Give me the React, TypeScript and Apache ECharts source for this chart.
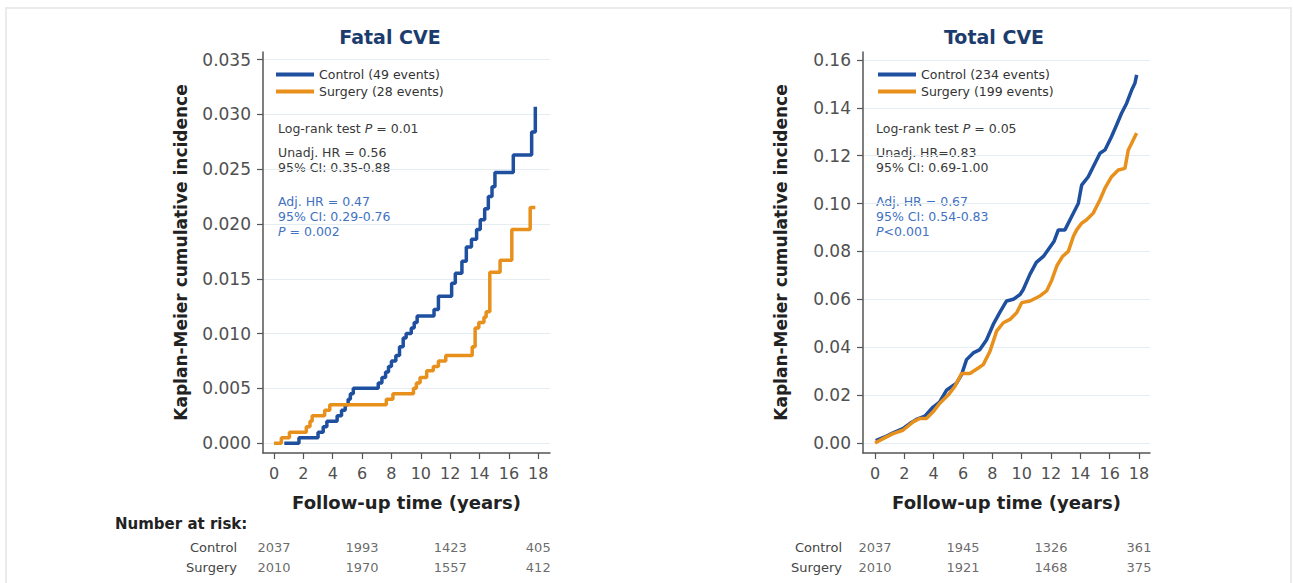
import React, { useEffect, useRef } from 'react';
import * as echarts from 'echarts';

const FONT = 'DejaVu Sans';
const BLUE = '#1f4f9f';
const ORANGE = '#e8901c';
const STAT_GRAY = '#3a3a3a';
const STAT_BLUE = '#4272c2';

const titles = ['Fatal CVE', 'Total CVE'];
const legendFatal = ['Control (49 events)', 'Surgery (28 events)'];
const legendTotal = ['Control (234 events)', 'Surgery (199 events)'];
const xAxisName = 'Follow-up time (years)';
const yAxisName = 'Kaplan-Meier cumulative incidence';
const riskTitle = 'Number at risk:';

const xTicks = [0, 2, 4, 6, 8, 10, 12, 14, 16, 18];
const fatalYTicks = [0, 0.005, 0.01, 0.015, 0.02, 0.025, 0.03, 0.035];
const totalYTicks = [0, 0.02, 0.04, 0.06, 0.08, 0.1, 0.12, 0.14, 0.16];

const fatalStatsGray = ['Log-rank test {i|P} = 0.01', 'Unadj. HR = 0.56', '95% CI: 0.35-0.88'];
const fatalStatsBlue = ['Adj. HR = 0.47', '95% CI: 0.29-0.76', '{i|P} = 0.002'];
const totalStatsGray = ['Log-rank test {i|P} = 0.05', 'Unadj. HR=0.83', '95% CI: 0.69-1.00'];
const totalStatsBlue = ['Adj. HR = 0.67', '95% CI: 0.54-0.83', '{i|P}<0.001'];

// Fatal CVE: [time (years), cumulative incidence after the step]
const fatalControl: [number, number][] = [
  [0.7, 0], [1.7, 0.0005], [3.0, 0.001], [3.35, 0.0015], [3.6, 0.002], [4.3, 0.0025],
  [4.6, 0.003], [4.85, 0.0035], [5.05, 0.004], [5.2, 0.0045], [5.4, 0.005], [7.1, 0.0055],
  [7.35, 0.006], [7.6, 0.0065], [7.8, 0.007], [8.0, 0.0075], [8.3, 0.008], [8.55, 0.0088],
  [8.8, 0.0096], [9.0, 0.01], [9.35, 0.0105], [9.55, 0.011], [9.75, 0.0116], [10.9, 0.0122],
  [11.2, 0.0134], [12.1, 0.0146], [12.35, 0.0155], [12.8, 0.0166], [13.1, 0.0179],
  [13.45, 0.0186], [13.8, 0.0195], [14.05, 0.0204], [14.35, 0.0214], [14.6, 0.0225],
  [14.85, 0.0234], [15.05, 0.0247], [16.3, 0.0263], [17.55, 0.0284], [17.8, 0.0307],
];
const fatalSurgery: [number, number][] = [
  [0, 0], [0.5, 0.0005], [1.05, 0.001], [2.2, 0.0015], [2.45, 0.002], [2.6, 0.0025],
  [3.45, 0.003], [3.8, 0.0035], [7.65, 0.004], [8.1, 0.0045], [9.5, 0.005], [9.7, 0.0055],
  [9.95, 0.006], [10.4, 0.0066], [10.85, 0.007], [11.2, 0.0075], [11.7, 0.008],
  [13.5, 0.0088], [13.7, 0.0105], [13.95, 0.011], [14.3, 0.0115], [14.45, 0.012],
  [14.7, 0.0156], [15.4, 0.0167], [16.2, 0.0195], [17.45, 0.0215], [17.8, 0.0215],
];

// Total CVE
const totalControl: [number, number][] = [
  [0.05, 0.001], [0.66, 0.0025], [1.23, 0.0042], [1.9, 0.006], [2.37, 0.0081], [2.82, 0.0098],
  [3.4, 0.0112], [3.96, 0.015], [4.4, 0.017], [4.87, 0.022], [5.56, 0.025], [5.9, 0.0285],
  [6.24, 0.0348], [6.7, 0.0376], [7.15, 0.039], [7.6, 0.043], [8.06, 0.0495], [8.5, 0.0544],
  [8.97, 0.0593], [9.43, 0.06], [9.89, 0.062], [10.1, 0.064], [10.57, 0.0705], [11.0, 0.0754],
  [11.48, 0.0779], [12.2, 0.0841], [12.5, 0.089], [12.95, 0.089], [13.4, 0.0945],
  [13.86, 0.1], [14.09, 0.1077], [14.54, 0.1112], [14.88, 0.1154], [15.34, 0.121],
  [15.68, 0.1224], [16.13, 0.128], [16.47, 0.1328], [16.81, 0.1377], [17.16, 0.1419],
  [17.5, 0.1474], [17.72, 0.1502], [17.84, 0.1537],
];
const totalSurgery: [number, number][] = [
  [0, 0], [0.55, 0.0018], [1.23, 0.0039], [1.9, 0.0053], [2.6, 0.0088], [3.05, 0.0102],
  [3.5, 0.0102], [3.96, 0.013], [4.4, 0.0165], [4.99, 0.02], [5.44, 0.0236], [5.9, 0.029],
  [6.47, 0.029], [7.04, 0.0313], [7.38, 0.0327], [7.84, 0.0383], [8.29, 0.0467],
  [8.75, 0.0502], [9.2, 0.0516], [9.66, 0.0544], [10.0, 0.0586], [10.57, 0.0593],
  [11.25, 0.0614], [11.7, 0.0635], [12.05, 0.068], [12.4, 0.074], [12.8, 0.078],
  [13.18, 0.08], [13.52, 0.0862], [13.75, 0.089], [14.09, 0.0918], [14.43, 0.0932],
  [14.88, 0.096], [15.34, 0.1016], [15.68, 0.1064], [16.13, 0.1112], [16.59, 0.114],
  [17.04, 0.1147], [17.27, 0.1224], [17.5, 0.1252], [17.72, 0.128], [17.84, 0.1294],
];

const riskTimes = [0, 6, 12, 18];
const riskGroups = ['Surgery', 'Control'];
const fatalRiskControl = [2037, 1993, 1423, 405];
const fatalRiskSurgery = [2010, 1970, 1557, 412];
const totalRiskControl = [2037, 1945, 1326, 361];
const totalRiskSurgery = [2010, 1921, 1468, 375];

const PANELS = [
  { left: 263, xMin: -0.75, xMax: 18.8, yMin: -0.0009, yMax: 0.0357, yTicks: fatalYTicks, digits: 3, titleX: 390, statX: 278, riskMargin: 26 },
  { left: 863, xMin: -0.82, xMax: 18.75, yMin: -0.0042, yMax: 0.1633, yTicks: totalYTicks, digits: 2, titleX: 994, statX: 876, riskMargin: 21 },
];
const PLOT_TOP = 52;
const PLOT_W = 287;
const PLOT_H = 401;
const STAT_OFFSETS = [0, 24.5, 39.5, 73, 88, 103.5];

function statText(text: string, x: number, y: number, color: string) {
  return {
    type: 'text',
    x,
    y,
    silent: true,
    style: {
      text,
      fill: color,
      fontSize: 12.5,
      fontFamily: FONT,
      verticalAlign: 'middle',
      align: 'left',
      rich: {
        i: { fontStyle: 'italic', fontSize: 12.5, fontFamily: FONT, fill: color },
      },
    },
  };
}

function riskSeries(name: string, idx: number, group: string, values: number[]) {
  return {
    name,
    type: 'scatter',
    xAxisIndex: idx,
    yAxisIndex: idx,
    symbolSize: 1,
    silent: true,
    itemStyle: { color: 'rgba(0,0,0,0)' },
    label: {
      show: true,
      position: 'inside',
      formatter: (p: any) => String(p.value[2]),
      fontSize: 13,
      color: '#444',
      fontFamily: FONT,
    },
    data: riskTimes.map((t, i) => [t, group, values[i]]),
  };
}

export default function App() {
  const ref = useRef<HTMLDivElement>(null);
  useEffect(() => {
    if (!ref.current) return;
    const chart = echarts.init(ref.current, null, { renderer: 'svg' });
    const axisColor = '#555';

    const grids: any[] = [];
    const xAxes: any[] = [];
    const yAxes: any[] = [];
    PANELS.forEach((p, i) => {
      grids.push({ left: p.left, top: PLOT_TOP, width: PLOT_W, height: PLOT_H });
      xAxes.push({
        gridIndex: i,
        type: 'value',
        min: p.xMin,
        max: p.xMax,
        axisLine: { show: true, onZero: false, lineStyle: { color: axisColor, width: 1.5 } },
        axisTick: { show: true, customValues: xTicks, length: 6, lineStyle: { color: axisColor, width: 1.2 } },
        axisLabel: { customValues: xTicks, margin: 12, fontSize: 16, color: '#505050', fontFamily: FONT },
        splitLine: { show: false },
        name: xAxisName,
        nameLocation: 'middle',
        nameGap: 40,
        nameTextStyle: { fontSize: 18, fontWeight: 'bold', color: '#222', fontFamily: FONT },
      });
      yAxes.push({
        gridIndex: i,
        type: 'value',
        min: p.yMin,
        max: p.yMax,
        axisLine: { show: true, onZero: false, lineStyle: { color: axisColor, width: 1.5 } },
        axisTick: { show: true, customValues: p.yTicks, length: 6, lineStyle: { color: axisColor, width: 1.2 } },
        axisLabel: {
          customValues: p.yTicks,
          margin: 12,
          fontSize: 17,
          color: '#505050',
          fontFamily: FONT,
          formatter: (v: number) => v.toFixed(p.digits),
        },
        splitLine: { show: true, lineStyle: { color: '#e3edf2', width: 1 } },
        name: yAxisName,
        nameLocation: 'middle',
        nameRotate: 90,
        nameGap: 74,
        nameTextStyle: { fontSize: 17, fontWeight: 'bold', color: '#222', fontFamily: FONT },
      });
    });
    PANELS.forEach((p, i) => {
      grids.push({ left: p.left, top: 537, width: PLOT_W, height: 40 });
      xAxes.push({ gridIndex: 2 + i, type: 'value', min: p.xMin, max: p.xMax, show: false });
      yAxes.push({
        gridIndex: 2 + i,
        type: 'category',
        data: riskGroups,
        axisLine: { show: false },
        axisTick: { show: false },
        splitLine: { show: false },
        axisLabel: { margin: p.riskMargin, fontSize: 13, color: '#444', fontFamily: FONT },
      });
    });

    const lineSeries = (name: string, idx: number, data: [number, number][], color: string, step: boolean) => ({
      name,
      type: 'line',
      xAxisIndex: idx,
      yAxisIndex: idx,
      data,
      step: step ? 'end' : false,
      showSymbol: false,
      symbol: 'none',
      silent: true,
      color,
      itemStyle: { color },
      lineStyle: { color, width: 3.5 },
    });

    const graphics: any[] = [
      {
        type: 'rect',
        silent: true,
        z: -10,
        shape: { x: 6, y: 8, width: 1285, height: 620 },
        style: { fill: 'none', stroke: '#ebebeb', lineWidth: 2 },
      },
      {
        type: 'text',
        x: 115,
        y: 524,
        silent: true,
        style: { text: riskTitle, fill: '#222', fontSize: 15, fontWeight: 'bold', fontFamily: FONT, verticalAlign: 'middle', align: 'left' },
      },
    ];
    PANELS.forEach((p, i) => {
      graphics.push({
        type: 'text',
        x: p.titleX,
        y: 37,
        silent: true,
        style: { text: titles[i], fill: '#1d3c6e', fontSize: 19, fontWeight: 'bold', fontFamily: FONT, verticalAlign: 'middle', align: 'center' },
      });
      const gray = i === 0 ? fatalStatsGray : totalStatsGray;
      const blue = i === 0 ? fatalStatsBlue : totalStatsBlue;
      gray.forEach((t, k) => graphics.push(statText(t, p.statX, 128 + STAT_OFFSETS[k], STAT_GRAY)));
      blue.forEach((t, k) => graphics.push(statText(t, p.statX, 128 + STAT_OFFSETS[3 + k], STAT_BLUE)));
    });

    const legendBase = {
      orient: 'vertical',
      itemWidth: 38,
      itemHeight: 4,
      itemGap: 4,
      icon: 'rect',
      padding: 0,
      selectedMode: false,
      textStyle: { fontSize: 12.5, color: '#333', fontFamily: FONT },
    };

    chart.setOption({
      animation: false,
      backgroundColor: '#fff',
      textStyle: { fontFamily: FONT },
      grid: grids,
      xAxis: xAxes,
      yAxis: yAxes,
      legend: [
        { ...legendBase, data: legendFatal, left: 276, top: 68 },
        { ...legendBase, data: legendTotal, left: 878, top: 68 },
      ],
      graphic: graphics,
      series: [
        lineSeries(legendFatal[0], 0, fatalControl, BLUE, true),
        lineSeries(legendFatal[1], 0, fatalSurgery, ORANGE, true),
        lineSeries(legendTotal[0], 1, totalControl, BLUE, false),
        lineSeries(legendTotal[1], 1, totalSurgery, ORANGE, false),
        riskSeries('Fatal Control at risk', 2, 'Control', fatalRiskControl),
        riskSeries('Fatal Surgery at risk', 2, 'Surgery', fatalRiskSurgery),
        riskSeries('Total Control at risk', 3, 'Control', totalRiskControl),
        riskSeries('Total Surgery at risk', 3, 'Surgery', totalRiskSurgery),
      ],
    });
    return () => chart.dispose();
  }, []);
  return (
    <div
      ref={ref}
      style={{ position: 'absolute', left: 0, top: 0, width: 1293, height: 583, background: '#fff' }}
    />
  );
}
